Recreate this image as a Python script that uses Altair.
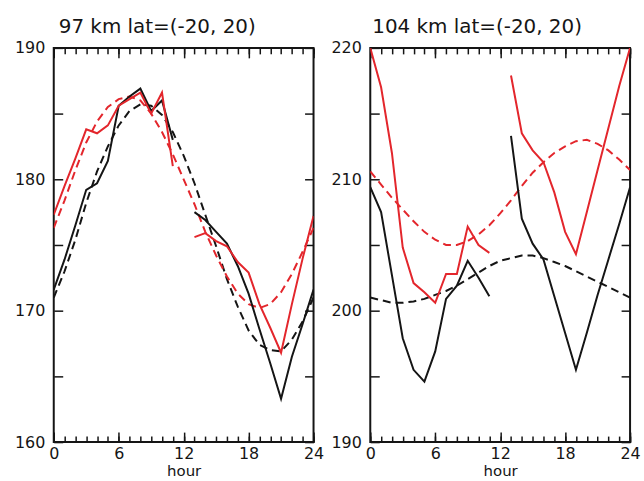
import altair as alt
import pandas as pd

# ---------------- data ----------------
HOURS_AM = list(range(0, 12))      # 0..11
HOURS_PM = list(range(13, 25))     # 13..24
HOURS_ALL = list(range(0, 25))     # 0..24

# 97 km panel
OBS_BLACK_97_AM = [171.6, 173.9, 176.5, 179.2, 179.7, 181.4, 185.6, 186.3, 186.9, 185.2, 186.0, 183.0]
OBS_BLACK_97_PM = [177.5, 176.9, 176.0, 175.1, 173.4, 171.3, 168.6, 166.0, 163.3, 166.5, 169.0, 171.6]
OBS_RED_97_AM = [177.3, 179.5, 181.6, 183.8, 183.5, 184.1, 185.6, 186.1, 186.6, 185.0, 186.6, 181.0]
OBS_RED_97_PM = [175.6, 175.9, 175.3, 174.9, 173.7, 172.9, 170.5, 168.7, 166.8, 170.5, 174.0, 177.2]
FIT_BLACK_97 = [171.0, 173.0, 175.4, 178.2, 180.6, 182.5, 184.1, 185.2, 185.7, 185.6, 184.9, 183.6,
                181.8, 179.7, 177.3, 174.9, 172.4, 170.3, 168.5, 167.4, 167.0, 166.9, 167.8, 169.2, 171.0]
FIT_RED_97 = [176.3, 178.4, 180.7, 182.8, 184.4, 185.5, 186.1, 186.3, 186.0, 185.0, 183.6, 181.9,
              180.0, 178.1, 176.0, 174.2, 172.6, 171.3, 170.5, 170.2, 170.5, 171.4, 172.8, 174.5, 176.3]

# 104 km panel
OBS_BLACK_104_AM = [209.4, 207.5, 202.7, 197.9, 195.5, 194.6, 196.9, 200.9, 201.9, 203.8, 202.5, 201.1]
OBS_BLACK_104_PM = [213.3, 207.0, 205.1, 203.9, 201.1, 198.3, 195.5, 198.3, 201.2, 203.9, 206.6, 209.4]
OBS_RED_104_AM = [220.0, 217.0, 212.0, 204.8, 202.1, 201.4, 200.6, 202.8, 202.8, 206.4, 205.0, 204.4]
OBS_RED_104_PM = [217.9, 213.5, 212.2, 211.3, 209.0, 206.0, 204.3, 207.5, 210.7, 213.9, 217.1, 220.0]
FIT_BLACK_104 = [201.0, 200.8, 200.6, 200.6, 200.7, 200.9, 201.2, 201.5, 201.9, 202.4, 202.9, 203.4,
                 203.8, 204.0, 204.2, 204.2, 204.0, 203.7, 203.4, 203.0, 202.6, 202.2, 201.8, 201.4, 201.0]
FIT_RED_104 = [210.6, 209.6, 208.6, 207.7, 206.8, 206.0, 205.4, 205.0, 205.0, 205.3, 205.8, 206.5,
               207.4, 208.4, 209.5, 210.5, 211.3, 212.0, 212.5, 212.9, 213.0, 212.7, 212.2, 211.5, 210.7]

X_LABELS = [0, 6, 12, 18, 24]
Y97_DOMAIN = [160, 190]
Y97_LABELS = [160, 170, 180, 190]
Y97_TICKS = [160, 165, 170, 175, 180, 185, 190]
Y104_DOMAIN = [190, 220]
Y104_LABELS = [190, 200, 210, 220]
Y104_TICKS = [190, 195, 200, 205, 210, 215, 220]

TITLE_97 = "97 km lat=(-20, 20)"
TITLE_104 = "104 km lat=(-20, 20)"

# ---------------- styling ----------------
RED = "#e3262c"
BLACK = "#151515"
W, H = 261, 396
FONT = "DejaVu Sans"


def seg_frame(am, pm):
    return pd.DataFrame({
        "hour": HOURS_AM + HOURS_PM,
        "temp": am + pm,
        "seg": ["am"] * len(am) + ["pm"] * len(pm),
    })


def fit_frame(vals):
    return pd.DataFrame({"hour": HOURS_ALL, "temp": vals})


def tick_axis(orient, offset, values, size):
    return alt.Axis(orient=orient, offset=offset, values=values, tickSize=size,
                    labels=False, domain=False, grid=False, title=None,
                    tickColor=BLACK, tickWidth=1.5)


def panel(title, dx, ydom, ylabels, yticks, b_am, b_pm, r_am, r_pm, b_fit, r_fit):
    xs = alt.Scale(domain=[0, 24], nice=False, zero=False)
    ys = alt.Scale(domain=ydom, nice=False, zero=False)

    x_main = alt.X("hour:Q", scale=xs,
                   axis=alt.Axis(values=X_LABELS, title="hour", ticks=False, domain=False,
                                 grid=False, labelPadding=4, titlePadding=2,
                                 titleFontSize=15,
                                 labelFlush=False, labelOverlap=False))
    y_main = alt.Y("temp:Q", scale=ys,
                   axis=alt.Axis(values=ylabels, title=None, ticks=False, domain=False,
                                 grid=False, labelPadding=9, labelFlush=False,
                                 labelOverlap=False))

    fit_b = alt.Chart(fit_frame(b_fit)).mark_line(
        color=BLACK, strokeWidth=2, strokeDash=[8, 5], clip=True).encode(x=x_main, y=y_main)
    fit_r = alt.Chart(fit_frame(r_fit)).mark_line(
        color=RED, strokeWidth=2, strokeDash=[8, 5], clip=True).encode(
        x=alt.X("hour:Q", scale=xs, axis=None), y=alt.Y("temp:Q", scale=ys, axis=None))
    obs_b = alt.Chart(seg_frame(b_am, b_pm)).mark_line(
        color=BLACK, strokeWidth=2, clip=True).encode(
        x=alt.X("hour:Q", scale=xs, axis=None), y=alt.Y("temp:Q", scale=ys, axis=None),
        detail="seg:N")
    obs_r = alt.Chart(seg_frame(r_am, r_pm)).mark_line(
        color=RED, strokeWidth=2, clip=True).encode(
        x=alt.X("hour:Q", scale=xs, axis=None), y=alt.Y("temp:Q", scale=ys, axis=None),
        detail="seg:N")

    base = alt.Chart(fit_frame(b_fit)).mark_point(opacity=0)

    def tl(xaxis=None, yaxis=None):
        return base.encode(x=alt.X("hour:Q", scale=xs, axis=xaxis),
                           y=alt.Y("temp:Q", scale=ys, axis=yaxis))

    ticks = [
        tl(xaxis=tick_axis("top", -H, HOURS_ALL, 6)),     # bottom edge minor (pointing up)
        tl(xaxis=tick_axis("top", -H, X_LABELS, 10)),     # bottom edge major
        tl(xaxis=tick_axis("bottom", -H, HOURS_ALL, 6)),  # top edge minor (pointing down)
        tl(xaxis=tick_axis("bottom", -H, X_LABELS, 10)),  # top edge major
        tl(yaxis=tick_axis("right", -W, yticks, 9)),      # left edge (pointing right)
        tl(yaxis=tick_axis("left", -W, yticks, 9)),       # right edge (pointing left)
    ]

    return alt.layer(fit_b, fit_r, obs_b, obs_r, *ticks).resolve_axis(
        x="independent", y="independent"
    ).properties(
        width=W, height=H,
        title=alt.TitleParams(title, anchor="start", frame="group", dx=dx, offset=3,
                              font=FONT, fontSize=20, fontWeight="normal", color=BLACK),
    )


left = panel(TITLE_97, 5, Y97_DOMAIN, Y97_LABELS, Y97_TICKS,
             OBS_BLACK_97_AM, OBS_BLACK_97_PM, OBS_RED_97_AM, OBS_RED_97_PM,
             FIT_BLACK_97, FIT_RED_97)
right = panel(TITLE_104, 2, Y104_DOMAIN, Y104_LABELS, Y104_TICKS,
              OBS_BLACK_104_AM, OBS_BLACK_104_PM, OBS_RED_104_AM, OBS_RED_104_PM,
              FIT_BLACK_104, FIT_RED_104)

chart = alt.hconcat(left, right, spacing=57, bounds="flush").configure_view(
    stroke=BLACK, strokeWidth=2
).configure_axis(
    labelFont=FONT, labelFontSize=16, labelColor=BLACK,
    titleFont=FONT, titleFontSize=16, titleFontWeight="normal", titleColor=BLACK,
).properties(
    padding={"left": 13, "top": 15, "right": 2, "bottom": 0},
    background="white",
)

chart.save("out.html", embed_options={"renderer": "svg", "actions": False})
